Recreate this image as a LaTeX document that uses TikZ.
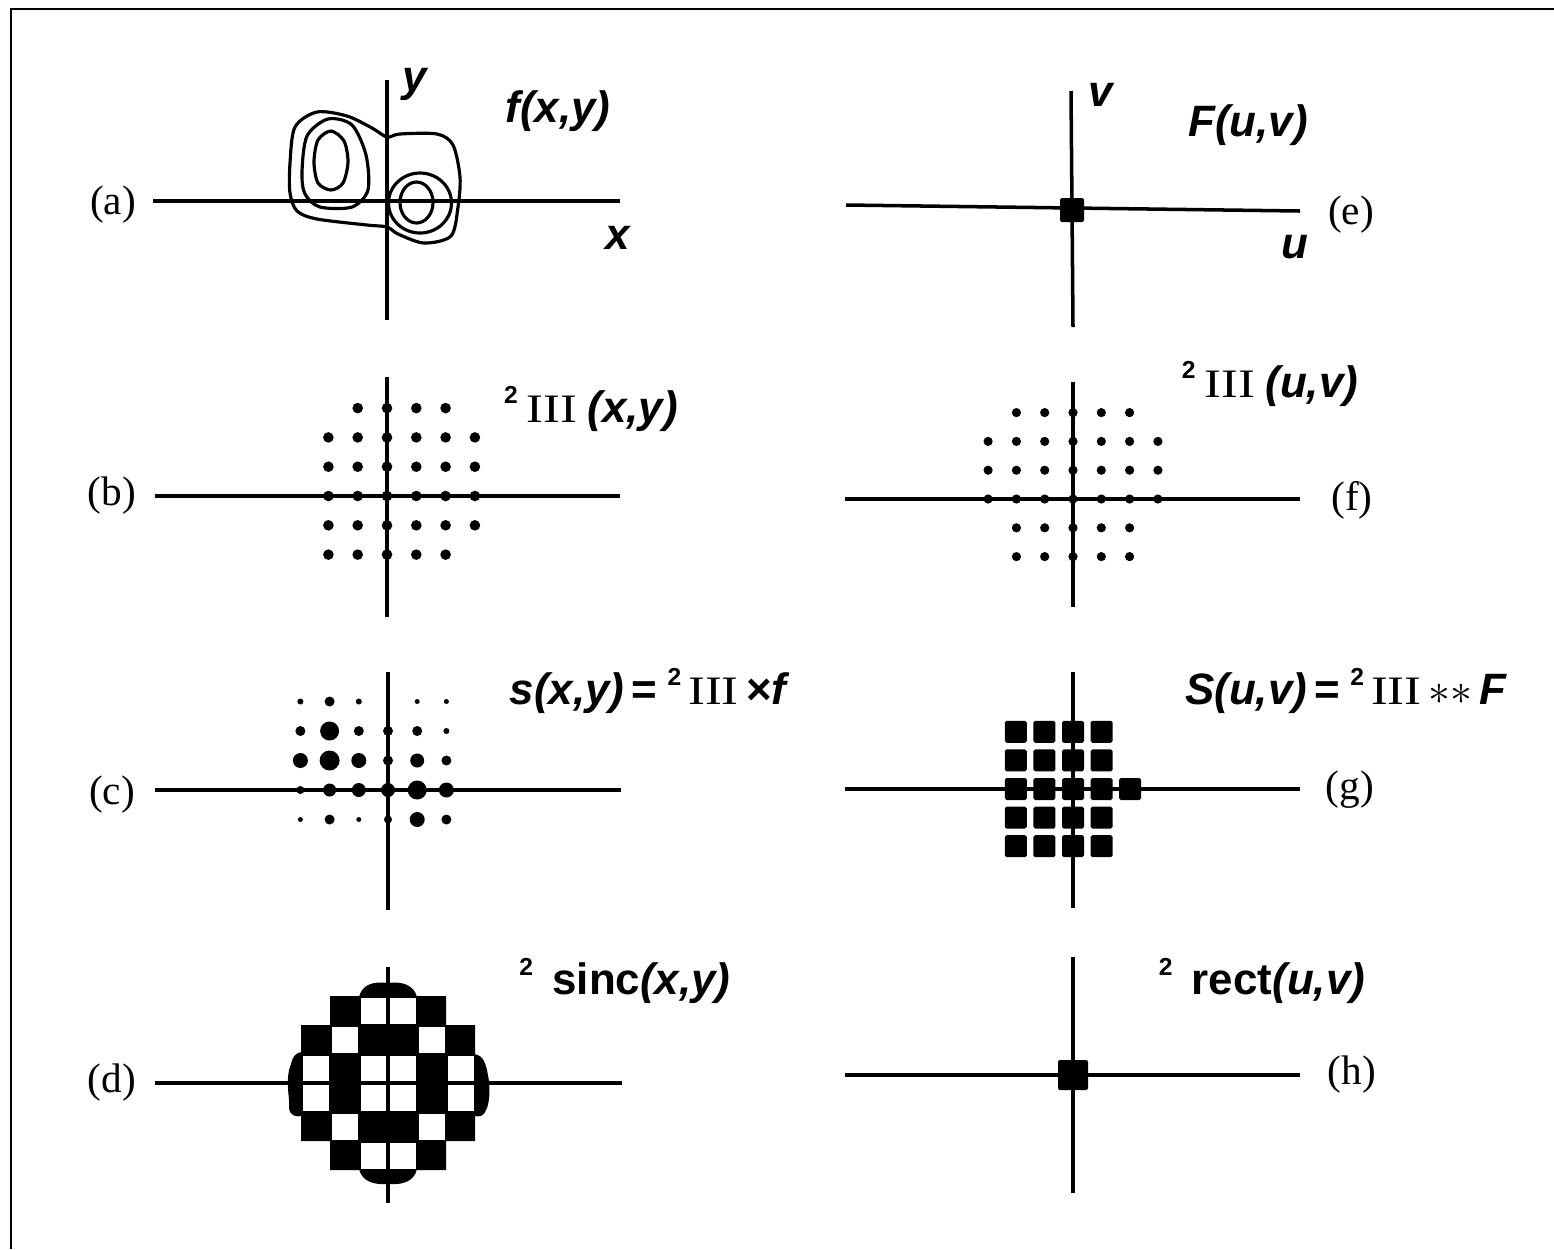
\documentclass[tikz,border=0pt]{standalone}
\usepackage{fontspec}
\setmainfont{Liberation Serif}
\newfontfamily\hsans{Liberation Sans}

\newcommand{\twosup}{\smash{\raisebox{10.5pt}{\upshape\fontsize{14}{14}\selectfont 2}}}
\newcommand{\shah}{{\rmfamily\mdseries\upshape\fontsize{23}{26}\selectfont\scalebox{1.25}[1]{III}}}

\begin{document}
\begin{tikzpicture}[x=0.02cm, y=-0.02cm, line width=2pt,
    tag/.style={font=\fontsize{23.5}{26}\selectfont, inner sep=0pt},
    var/.style={font=\hsans\bfseries\itshape\fontsize{25}{28}\selectfont, inner sep=0pt},
    contour/.style={line width=1.8pt}]
	\useasboundingbox (0,0) rectangle (1554,1249);
	% frame
	\draw[line width=1.5pt] (11,1249) -- (11,9) -- (1554,9);
	
	% (a) f(x,y)
	\draw (153,201) -- (620,201);
	\draw (387,80) -- (387,320);
	\draw[contour] plot[smooth cycle] coordinates {(290,163) (295,127) (317,112) (347,116) (372,128) (387,137) (400,134) (437,134) (453,145) (460,177) (458,207) (451,236) (424,243) (398,234) (387,227) (367,225) (317,219) (297,211) (290,193)};
	\draw[contour] plot[smooth cycle] coordinates {(302,172) (307,136) (328,119) (352,125) (366,155) (368,190) (352,207) (320,207) (305,194)};
	\draw[contour] plot[smooth cycle] coordinates {(314,162) (318,140) (331,131) (344,141) (348,162) (343,183) (331,190) (318,183)};
	\draw[contour] (420,203) ellipse (31.5 and 30);
	\draw[contour] (416.5,202.5) ellipse (16.5 and 20.5);
	\node[tag] (ta) at (113,205) {(a)};
	\node[var] (ya) at (415,84) {y};
	\node[var] (fxy) at (558,111) {f(x,y)};
	\node[var] (xa) at (618,238) {x};
	
	% (b) comb
	\draw (155,496) -- (620,496);
	\draw (387,377) -- (387,617);
	\foreach \j/\lo/\hi in {3/-1/2, 2/-2/3, 1/-2/3, 0/-2/3, -1/-2/3, -2/-2/2}
		\foreach \i in {\lo,...,\hi}
			\fill ({387+\i*29.3},{496-\j*29.3}) circle (5.3);
	\node[tag] (tb) at (112,496) {(b)};
	\node[var] (shxy) at (591,411) {\twosup\hspace{5pt}\shah\hspace{6pt}(x,y)};
	
	% (c) sampled
	\draw (155,790) -- (621,790);
	\draw (388,672) -- (388,910);
	\foreach \i/\j/\r in {-3/3/3, -2/3/5, -1/3/3, 1/3/2.5, 2/3/2.5,
			-3/2/5, -2/2/9.5, -1/2/5, 0/2/5, 1/2/5, 2/2/3,
			-3/1/7.5, -2/1/10, -1/1/7.5, 0/1/5, 1/1/7, 2/1/5,
			-3/0/4, -2/0/6.5, -1/0/7, 0/0/7, 1/0/9.5, 2/0/7.5,
			-3/-1/2.5, -2/-1/5, -1/-1/2.5, 0/-1/4, 1/-1/7.5, 2/-1/5}
		\fill ({388+\i*29.2},{790-\j*29.5}) circle (\r);
	\node[tag] (tc) at (112,795) {(c)};
	\node[var] (sxy) at (648,693) {s(x,y)\hspace{4pt}{\upshape =}\hspace{6pt}\twosup\hspace{4pt}\shah{\upshape\,×}f};
	
	% (d) sinc
	\fill (330,996) -- (446,996) -- (446,1025) -- (475,1025) -- (475,1141) -- (446,1141) -- (446,1170) -- (330,1170) -- (330,1141) -- (301,1141) -- (301,1025) -- (330,1025) -- cycle;
	\fill (359,997) .. controls (362,985) and (372,981) .. (388,983) .. controls (402,981) and (414,985) .. (417,997) -- cycle;
	\fill (359,1169) .. controls (362,1182) and (375,1185) .. (388,1184) .. controls (402,1185) and (414,1182) .. (417,1169) -- cycle;
	\fill (302,1052) .. controls (292,1053) and (292,1062) .. (289,1070) .. controls (286,1085) and (290,1100) .. (289,1108) .. controls (290,1116) and (296,1117) .. (302,1116) -- cycle;
	\fill (474,1054) .. controls (484,1055) and (486,1065) .. (488,1075) .. controls (491,1090) and (489,1105) .. (486,1110) .. controls (484,1116) and (480,1117) .. (474,1116) -- cycle;
	\foreach \a/\b in {-1/2, 0/2, -2/1, 1/1, -3/0, -1/0, 0/0, 2/0, -3/-1, -1/-1, 0/-1, 2/-1, -2/-2, 1/-2, -1/-3, 0/-3}
		\fill[white] ({388+\a*29+1.5},{1083-(\b+1)*29+1.5}) rectangle ({388+(\a+1)*29-1.5},{1083-\b*29-1.5});
	\draw (155,1083) -- (622,1083);
	\draw (388,967) -- (388,1203);
	\node[tag] (td) at (112,1083) {(d)};
	\node[var] (sinc) at (625,983) {\twosup\hspace{11pt}{\upshape sinc}(x,y)};
	
	% (e) F(u,v)
	\draw (846,205) -- (1300,211);
	\draw (1071,91) -- (1073,327);
	\fill[rounded corners=1.2pt] (1060,198) rectangle (1084,222);
	\node[tag] (te) at (1351,215) {(e)};
	\node[var] (va) at (1101,95) {v};
	\node[var] (Fuv) at (1248,125) {F(u,v)};
	\node[var] (ua) at (1295,247) {u};
	
	% (f) comb in u,v
	\draw (845,499) -- (1300,499);
	\draw (1073,382) -- (1073,607);
	\foreach \j/\lo/\hi in {3/-2/2, 2/-3/3, 1/-3/3, 0/-3/3, -1/-2/2, -2/-2/2}
		\foreach \i in {\lo,...,\hi}
			\fill ({1073+\i*28.3},{499-\j*28.8}) circle (4.6);
	\node[tag] (tf) at (1352,500) {(f)};
	\node[var] (shuv) at (1270,386) {\twosup\hspace{5pt}\shah\hspace{6pt}(u,v)};
	
	% (g) replicated spectrum
	\draw (845,789) -- (1300,789);
	\draw (1073,672) -- (1073,908);
	\foreach \j in {-2,...,2}
		\foreach \i in {-2,...,1}
			\fill[rounded corners=1pt] ({1073+\i*28.6-11},{789-\j*28.6-11}) rectangle ({1073+\i*28.6+11},{789-\j*28.6+11});
	\fill[rounded corners=1pt] ({1073+2*28.6-11},778) rectangle ({1073+2*28.6+11},800);
	\node[tag] (tg) at (1350,790) {(g)};
	\node[var] (Suv) at (1346,693) {S(u,v)\hspace{4pt}{\upshape =}\hspace{6pt}\twosup\hspace{4pt}\shah{\upshape\,$\ast\ast$\,}F};
	
	% (h) rect
	\draw (845,1075) -- (1300,1075);
	\draw (1073,957) -- (1073,1193);
	\fill[rounded corners=1.2pt] (1058,1060) rectangle (1088,1090);
	\node[tag] (th) at (1352,1075) {(h)};
	\node[var] (rect) at (1262,983) {\twosup\hspace{11pt}{\upshape rect}(u,v)};
\end{tikzpicture}
\end{document}
